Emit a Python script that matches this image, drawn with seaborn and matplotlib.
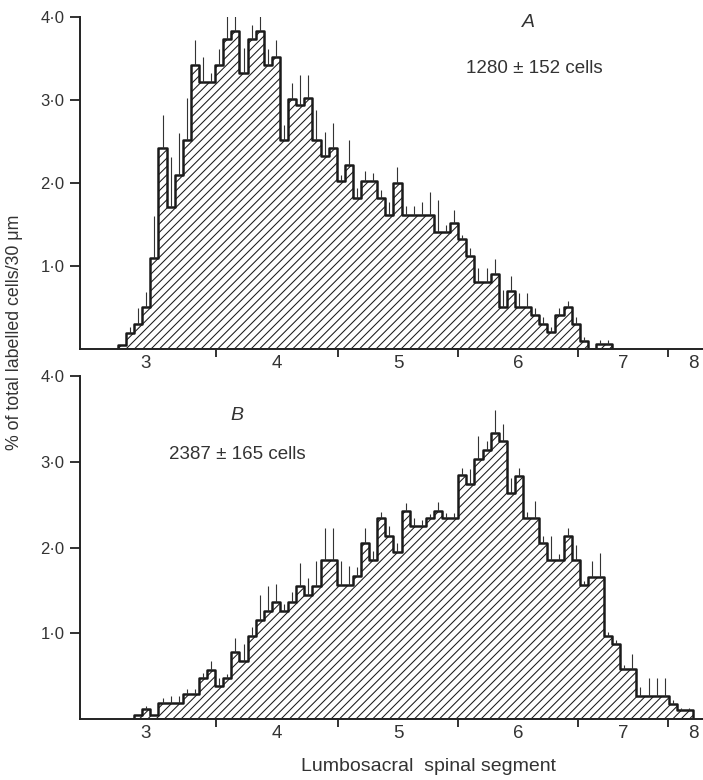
import numpy as np
import pandas as pd
import seaborn as sns
import matplotlib.pyplot as plt

# bin values, one bin = 30 um of cord, x counted in bins
top_start = 0
top_pct = [0.05, 0.19, 0.30, 0.50, 1.10, 2.42, 1.71, 2.10, 2.52, 3.42,
           3.22, 3.22, 3.42, 3.73, 3.83, 3.33, 3.73, 3.83, 3.42, 3.52,
           2.52, 3.01, 2.94, 3.02, 2.52, 2.32, 2.42, 2.02, 2.22, 1.82,
           2.02, 2.02, 1.82, 1.62, 2.00, 1.62, 1.62, 1.62, 1.62, 1.41,
           1.41, 1.52, 1.32, 1.12, 0.81, 0.81, 0.90, 0.51, 0.70, 0.51,
           0.51, 0.41, 0.30, 0.21, 0.41, 0.50, 0.30, 0.10, 0.00, 0.06,
           0.06]
top_err = [0.00, 0.08, 0.19, 0.19, 0.50, 0.40, 0.60, 0.50, 0.50, 0.30,
           0.30, 0.10, 0.20, 0.37, 0.28, 0.30, 0.17, 0.18, 0.20, 0.20,
           0.18, 0.20, 0.36, 0.28, 0.36, 0.30, 0.30, 0.08, 0.30, 0.12,
           0.13, 0.10, 0.10, 0.15, 0.19, 0.10, 0.10, 0.15, 0.27, 0.38,
           0.08, 0.15, 0.05, 0.10, 0.17, 0.17, 0.18, 0.20, 0.18, 0.17,
           0.17, 0.08, 0.08, 0.05, 0.08, 0.08, 0.08, 0.05, 0.00, 0.05,
           0.05]

bottom_start = 2
bottom_pct = [0.05, 0.12, 0.05, 0.19, 0.19, 0.19, 0.29, 0.29, 0.48, 0.57,
              0.39, 0.48, 0.78, 0.68, 0.97, 1.16, 1.26, 1.36, 1.26, 1.36,
              1.55, 1.45, 1.55, 1.86, 1.86, 1.56, 1.56, 1.67, 2.05, 1.86,
              2.34, 2.14, 1.95, 2.43, 2.25, 2.25, 2.34, 2.43, 2.34, 2.34,
              2.84, 2.74, 3.03, 3.14, 3.33, 3.24, 2.64, 2.83, 2.34, 2.34,
              2.05, 1.86, 1.86, 2.14, 1.86, 1.56, 1.66, 1.66, 0.97, 0.87,
              0.58, 0.58, 0.27, 0.27, 0.27, 0.27, 0.17, 0.10, 0.10]
bottom_err = [0.00, 0.03, 0.00, 0.06, 0.08, 0.08, 0.06, 0.06, 0.06, 0.11,
              0.09, 0.05, 0.17, 0.19, 0.10, 0.29, 0.29, 0.21, 0.08, 0.12,
              0.27, 0.20, 0.29, 0.37, 0.37, 0.28, 0.22, 0.10, 0.18, 0.10,
              0.08, 0.11, 0.10, 0.09, 0.09, 0.07, 0.05, 0.10, 0.06, 0.06,
              0.09, 0.17, 0.27, 0.10, 0.27, 0.20, 0.17, 0.10, 0.08, 0.20,
              0.08, 0.27, 0.06, 0.09, 0.17, 0.05, 0.18, 0.28, 0.05, 0.05,
              0.05, 0.18, 0.10, 0.21, 0.21, 0.21, 0.05, 0.03, 0.03]

# segment boundaries (in bins) and segment names
seg_bounds = [-5.2, 12.1, 27.2, 42.0, 56.8, 67.9, 74.1]
seg_names = ['3', '4', '5', '6', '7', '8']
y_ticks = [1, 2, 3, 4]
y_labels = ['1·0', '2·0', '3·0', '4·0']

panels = [
    ('A', '1280 ± 152 cells', top_start, top_pct, top_err),
    ('B', '2387 ± 165 cells', bottom_start, bottom_pct, bottom_err),
]

sns.set_style('ticks')
plt.rcParams['font.family'] = ['Liberation Sans', 'DejaVu Sans']
plt.rcParams['hatch.linewidth'] = 0.75

fig = plt.figure(figsize=(7.03, 7.8), dpi=100)
ax_top = fig.add_axes([0.1138, 0.5526, 0.8862, 0.4256])
ax_bot = fig.add_axes([0.1138, 0.0782, 0.8862, 0.4397])

# where the letter and the cell count go in each panel (axes fraction)
text_pos = [((0.72, 0.982), (0.73, 0.846)), ((0.252, 0.886), (0.252, 0.77))]
txt = '#333333'

for ax, (letter, count, start, pct, err), (pos_l, pos_c) in zip(
        [ax_top, ax_bot], panels, text_pos):
    df = pd.DataFrame({'bin': np.arange(start, start + len(pct)) + 0.5,
                       'pct': pct, 'err': err})
    sns.histplot(data=df, x='bin', weights='pct', binwidth=1,
                 binrange=(start, start + len(pct)), element='step',
                 fill=True, facecolor='white', edgecolor='#1a1a1a',
                 hatch='////', linewidth=1.8, ax=ax)
    ax.errorbar(df['bin'], df['pct'], yerr=[np.zeros(len(df)), df['err']],
                fmt='none', ecolor='#333333', elinewidth=0.8, capsize=0)

    ax.set_xlim(-4.69, 72.22)
    ax.set_ylim(0, 4.0)
    ax.set_xlabel('')
    ax.set_ylabel('')
    ax.set_yticks(y_ticks)
    ax.set_yticklabels(y_labels, fontsize=12, color=txt)
    ax.set_xticks(seg_bounds[1:-1])
    ax.set_xticklabels([''] * (len(seg_bounds) - 2))
    centers = [(a + b) / 2 for a, b in zip(seg_bounds[:-1], seg_bounds[1:])]
    ax.set_xticks(centers, minor=True)
    ax.set_xticklabels(seg_names, minor=True, fontsize=13.5, color=txt)
    ax.tick_params(axis='x', which='major', direction='out', length=6,
                   width=1.3, color='#222222')
    ax.tick_params(axis='x', which='minor', length=0, pad=4)
    ax.tick_params(axis='y', direction='out', length=7, width=1.3,
                   color='#222222', pad=4)
    sns.despine(ax=ax)
    for s in ['left', 'bottom']:
        ax.spines[s].set_linewidth(1.4)
        ax.spines[s].set_color('#222222')

    ax.text(pos_l[0], pos_l[1], letter, transform=ax.transAxes,
            fontsize=14, style='italic', ha='center', va='center', color=txt)
    ax.text(pos_c[0], pos_c[1], count, transform=ax.transAxes,
            fontsize=13.5, ha='center', va='center', color=txt)

fig.text(0.021, 0.574, '% of total labelled cells/30 μm', rotation=90,
         ha='center', va='center', fontsize=12.8, color=txt)
fig.text(0.609, 0.006, 'Lumbosacral  spinal segment', ha='center',
         va='bottom', fontsize=14, color=txt)

fig.savefig('out.png', dpi=100)
